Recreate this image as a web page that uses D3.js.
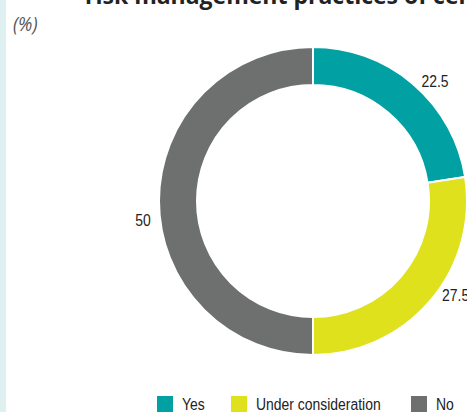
<!DOCTYPE html>
<html><head><meta charset="utf-8">
<script src="https://cdn.jsdelivr.net/npm/d3@7"></script>
<style>
html,body{margin:0;padding:0;background:#fff;overflow:hidden}
</style></head>
<body>
<svg id="chart" width="467" height="412"></svg>
<script>
const categories = ["Yes", "Under consideration", "No"];
const values = [22.5, 27.5, 50];
const labels = ["22.5", "27.5", "50"];
const colors = ["#00a0a3", "#dee11b", "#6e7070"];
const labelShiftDeg = [5, -7, -6.5];
const title = "risk management practices of certified companies";
const unitLabel = "(%)";

const svg = d3.select("#chart");
const W = 467, H = 412;
const cx = 313, cy = 201, outerR = 154, innerR = 116, labelR = 171;
const font = "'Liberation Sans',Arial,sans-serif";
const sx = 0.82;

svg.append("rect").attr("x",0).attr("y",0).attr("width",6).attr("height",H).attr("fill","#dff0f0");

svg.append("text").attr("x",85).attr("y",4)
  .attr("font-family","'Open Sans',sans-serif").attr("font-weight",700)
  .attr("font-size",23).attr("fill","#222").text(title);

svg.append("text").attr("transform","translate(13,31) scale(0.9,1)")
  .attr("font-family","'Open Sans',sans-serif").attr("font-style","italic")
  .attr("font-size",20).attr("fill","#555").text(unitLabel);

const pie = d3.pie().sort(null).value(d => d)(values);
const arc = d3.arc().innerRadius(innerR).outerRadius(outerR);
const g = svg.append("g").attr("transform",`translate(${cx},${cy})`);
g.selectAll("path").data(pie).join("path")
  .attr("d",arc).attr("fill",(d,i)=>colors[i])
  .attr("stroke","#fff").attr("stroke-width",2);

g.selectAll("text.lbl").data(pie).join("text").attr("class","lbl")
  .attr("transform",(d,i)=>{
    const a=(d.startAngle+d.endAngle)/2+labelShiftDeg[i]*Math.PI/180;
    return `translate(${labelR*Math.sin(a)},${-labelR*Math.cos(a)}) scale(${sx},1)`;
  })
  .attr("text-anchor","middle").attr("dominant-baseline","central")
  .attr("font-family",font).attr("font-size",17).attr("fill","#222")
  .text((d,i)=>labels[i]);

// legend
const legendX = [157, 231, 411];
const lg = svg.append("g");
categories.forEach((c,i)=>{
  lg.append("rect").attr("x",legendX[i]).attr("y",396).attr("width",16).attr("height",16).attr("fill",colors[i]);
  lg.append("text").attr("transform",`translate(${legendX[i]+25},410) scale(${sx},1)`)
    .attr("font-family",font).attr("font-size",17).attr("fill","#222").text(c);
});
</script>
</body></html>
